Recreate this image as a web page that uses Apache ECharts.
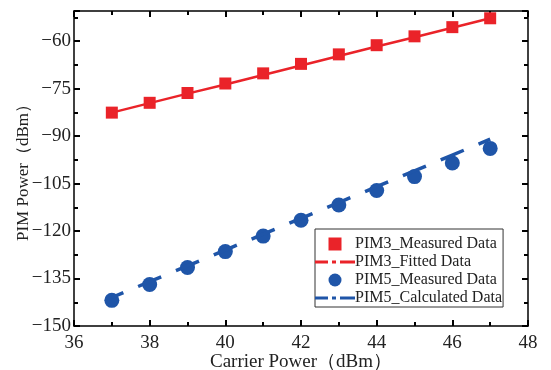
<!DOCTYPE html>
<html>
<head>
<meta charset="utf-8">
<script src="https://cdn.jsdelivr.net/npm/echarts@6/dist/echarts.min.js"></script>
<style>
  html, body { margin: 0; padding: 0; background: #fff; }
  #chart { width: 551px; height: 370px; }
</style>
</head>
<body>
<div id="chart"></div>
<script>
// carrier power (dBm)
const carrierPower = [37, 38, 39, 40, 41, 42, 43, 44, 45, 46, 47];
// PIM3 measured / fitted (dBm)
const pim3Measured = [-82.6, -79.5, -76.4, -73.4, -70.2, -67.2, -64.2, -61.3, -58.5, -55.6, -52.8];
const pim3Fitted = [-82.6, -79.6, -76.6, -73.7, -70.7, -67.7, -64.7, -61.7, -58.8, -55.8, -52.8];
// PIM5 measured / calculated (dBm)
const pim5Measured = [-141.9, -136.9, -131.5, -126.5, -121.6, -116.6, -111.8, -107.2, -102.8, -98.5, -93.9];
const pim5Calculated = [-141, -136, -131, -126, -121, -116, -111, -106, -101, -96, -91];

const RED = "#ea2329";
const BLUE = "#1f55a8";
const FONT = "Liberation Serif";
const DASH_DOT = "path://M0,0h13v3h-13z M17,0h4v3h-4z M25,0h15v3h-15z";

function pairs(ys) {
  return carrierPower.map((x, i) => [x, ys[i]]);
}
function minus(v) {
  return String(v).replace("-", "\u2212");
}

let chart = echarts.init(document.getElementById("chart"));

// 坐标轴公共样式
let axisBase = {
  axisLine: { show: true, onZero: false, lineStyle: { color: "#000", width: 1.5 } },
  axisTick: { show: true, inside: true, length: 6, lineStyle: { color: "#000", width: 2 } },
  minorTick: { show: true, splitNumber: 2, length: 4, lineStyle: { color: "#000", width: 2 } },
  splitLine: { show: false }
};

let option = {
  animation: false,
  grid: { left: 74, right: 23, top: 11, bottom: 44, containLabel: false, outerBoundsMode: "none" },
  legend: {
    orient: "vertical",
    left: 315,
    top: 229,
    padding: [7, 1, 1, 0],
    itemWidth: 40,
    itemHeight: 13,
    itemGap: 2,
    borderColor: "#333",
    borderWidth: 1,
    backgroundColor: "#fff",
    textStyle: { fontFamily: FONT, fontSize: 16, lineHeight: 16, color: "#222", padding: [0, 0, 0, -5] },
    data: [
      { name: "PIM3_Measured Data", icon: "path://M0,0h10v10h-10z" },
      { name: "PIM3_Fitted Data", icon: DASH_DOT },
      { name: "PIM5_Measured Data", icon: "circle" },
      { name: "PIM5_Calculated Data", icon: DASH_DOT }
    ]
  },
  xAxis: [
    Object.assign({}, axisBase, {
      type: "value",
      min: 36,
      max: 48,
      interval: 2,
      name: "Carrier Power\uff08dBm\uff09",
      nameLocation: "middle",
      nameGap: 27,
      nameMoveOverlap: false,
      nameTextStyle: { fontFamily: FONT, fontSize: 19, color: "#222" },
      axisLabel: { fontFamily: FONT, fontSize: 19, color: "#222", margin: 8 }
    }),
    Object.assign({}, axisBase, {
      type: "value",
      position: "top",
      min: 36,
      max: 48,
      interval: 2,
      axisLabel: { show: false }
    })
  ],
  yAxis: [
    Object.assign({}, axisBase, {
      type: "value",
      min: -150,
      max: -50.5,
      interval: 15,
      name: "PIM Power\uff08dBm\uff09",
      nameLocation: "middle",
      nameGap: 42,
      nameMoveOverlap: false,
      nameTextStyle: { fontFamily: FONT, fontSize: 17, color: "#222" },
      axisLabel: {
        fontFamily: FONT, fontSize: 19, color: "#222", margin: 3,
        showMaxLabel: false,
        formatter: minus
      }
    }),
    Object.assign({}, axisBase, {
      type: "value",
      position: "right",
      min: -150,
      max: -50.5,
      interval: 15,
      axisLabel: { show: false }
    })
  ],
  series: [
    {
      name: "PIM3_Fitted Data",
      type: "line",
      data: pairs(pim3Fitted),
      showSymbol: false,
      symbol: "none",
      lineStyle: { color: RED, width: 2.5 },
      itemStyle: { color: RED },
      z: 2
    },
    {
      name: "PIM3_Measured Data",
      type: "scatter",
      data: pairs(pim3Measured),
      symbol: "rect",
      symbolSize: 12,
      itemStyle: { color: RED, opacity: 1 },
      z: 3
    },
    {
      name: "PIM5_Measured Data",
      type: "scatter",
      data: pairs(pim5Measured),
      symbol: "circle",
      symbolSize: 15,
      itemStyle: { color: BLUE, opacity: 1 },
      z: 3
    },
    {
      name: "PIM5_Calculated Data",
      type: "line",
      data: pairs(pim5Calculated),
      showSymbol: false,
      symbol: "none",
      lineStyle: { color: BLUE, width: 3.5, type: [25, 16], dashOffset: 12.5 },
      itemStyle: { color: BLUE },
      z: 4
    }
  ]
};

chart.setOption(option);

window.addEventListener("resize", function() {
  chart.resize();
});
</script>
</body>
</html>
